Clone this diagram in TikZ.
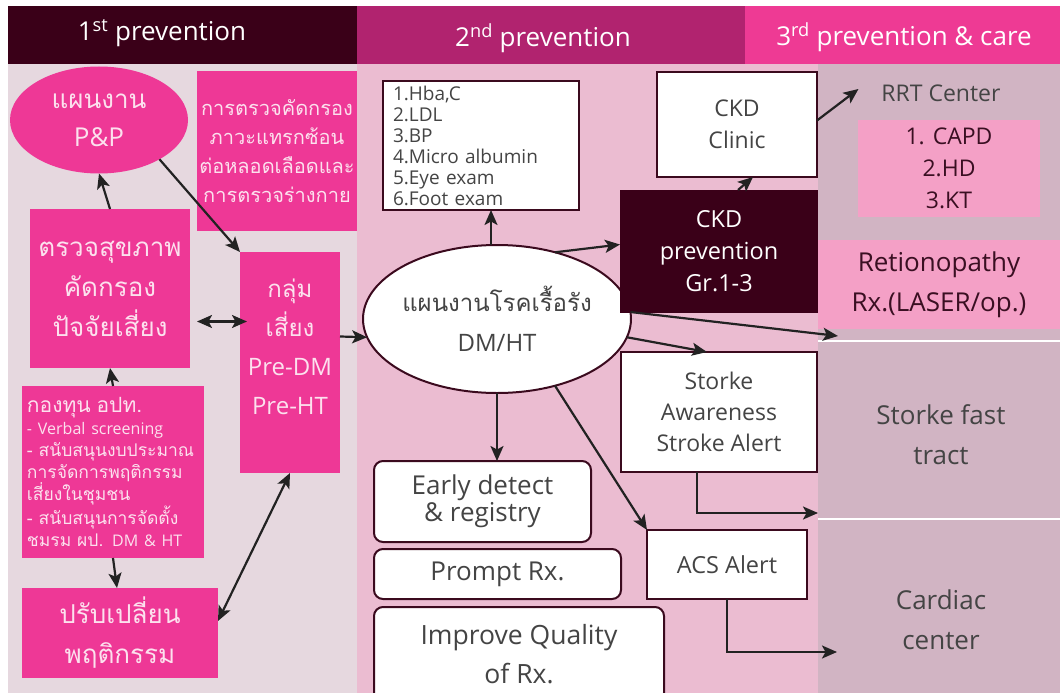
\documentclass[tikz,border=0pt]{standalone}
\usepackage{fontspec}
\setmainfont{Open Sans}
\newfontfamily\thai[Script=Thai]{Loma}
\usetikzlibrary{arrows.meta,shapes.geometric}
\definecolor{headA}{HTML}{3A0018}
\definecolor{headB}{HTML}{B1236F}
\definecolor{headC}{HTML}{EE3A94}
\definecolor{bgA}{HTML}{E6D8DF}
\definecolor{bgB}{HTML}{EBBCD1}
\definecolor{bgC}{HTML}{D1B4C3}
\definecolor{mag}{HTML}{EE3896}
\definecolor{rose}{HTML}{F4A0C6}
\definecolor{edge}{HTML}{3B0A1E}
\definecolor{ink}{HTML}{444444}
\definecolor{pinktxt}{HTML}{FCE1EE}
\definecolor{darktxt}{HTML}{3A0F22}
\definecolor{arrowc}{HTML}{222222}

\begin{document}
\begin{tikzpicture}[x=1pt,y=-1pt,
  >={Stealth[length=15pt,width=13pt,inset=3.5pt]},
  every node/.style={inner sep=0pt,outer sep=0pt},
  sz/.style 2 args={minimum width=#1pt,minimum height=#2pt},
  mbox/.style={fill=mag,text=pinktxt,anchor=north west,align=center},
  wbox/.style={draw=edge,line width=2pt,fill=white,text=ink,anchor=north west,align=center},
  rbox/.style={wbox,rounded corners=9pt},
  oval/.style={ellipse,anchor=center,align=center},
  head/.style={text=white,font=\fontsize{26}{30}\selectfont},
  side/.style={text=ink,align=center,font=\fontsize{26}{40}\selectfont},
  arr/.style={->,line width=2.2pt,draw=arrowc},
  dbl/.style={<->,line width=2.2pt,draw=arrowc}
]
\useasboundingbox (0,0) rectangle (1060,693);
% column bands
\fill[headA] (8,6) rectangle (357,64);
\fill[headB] (357,6) rectangle (745,64);
\fill[headC] (745,6) rectangle (1060,64);
\fill[bgA] (8,64) rectangle (357,693);
\fill[bgB] (357,64) rectangle (818,693);
\fill[bgC] (818,64) rectangle (1060,693);
\draw[white,line width=2pt] (818,341) -- (1060,341) (818,519) -- (1060,519);
\node[head] (firsthd) at (162,33) {1\textsuperscript{st} prevention};
\node[head] (secondhd) at (543,38) {2\textsuperscript{nd} prevention};
\node[head] (thirdhd) at (904,37) {3\textsuperscript{rd} prevention \& care};

% 1st prevention
\node[mbox,oval,sz={178}{107},font=\thai\fontsize{26}{38}\selectfont] (pp) at (99,120)
  {แผนงาน\\{\rmfamily P\&P}};
\node[mbox,sz={160}{160},font=\thai\fontsize{20}{29}\selectfont] (cvscreen) at (197,71)
  {การตรวจคัดกรอง\\ภาวะแทรกซ้อน\\ต่อหลอดเลือดและ\\การตรวจร่างกาย};
\node[mbox,sz={160}{159},font=\thai\fontsize{26}{40}\selectfont] (screen) at (30,209)
  {ตรวจสุขภาพ\\คัดกรอง\\ปัจจัยเสี่ยง};
\node[mbox,sz={100}{221},font=\thai\fontsize{24}{39}\selectfont] (risk) at (240,252)
  {กลุ่ม\\เสี่ยง\\{\rmfamily Pre-DM}\\{\rmfamily Pre-HT}\\[-8pt]\mbox{}};
\node[mbox,sz={182}{172},text width=172pt,align=left,font=\thai\fontsize{17.5}{22}\selectfont] (fund) at (22,386)
  {{\fontsize{21}{24}\selectfont กองทุน อปท.}\\
   {\rmfamily\fontsize{16}{22}\selectfont - Verbal screening}\\
   - สนับสนุนงบประมาณ\\
   การจัดการพฤติกรรม\\
   เสี่ยงในชุมชน\\
   - สนับสนุนการจัดตั้ง\\
   ชมรม ผป. {\rmfamily\fontsize{16}{22}\selectfont DM \& HT}};
\node[mbox,sz={196}{90},font=\thai\fontsize{26}{40}\selectfont] (change) at (22,588)
  {ปรับเปลี่ยน\\พฤติกรรม};

% 2nd prevention
\node[wbox,oval,sz={244}{148},font=\thai\fontsize{24}{40}\selectfont] (dm) at (497,319)
  {แผนงานโรคเรื้อรัง\\{\rmfamily DM/HT}};
\node[wbox,sz={196}{129},text width=176pt,align=left,font=\fontsize{19}{21}\selectfont] (labs) at (383,81)
  {1.Hba,C\\2.LDL\\3.BP\\4.Micro albumin\\5.Eye exam\\6.Foot exam};
\node[mbox,fill=headA,text=white,sz={198}{123},font=\fontsize{23.5}{32}\selectfont] (ckdp) at (620,190)
  {CKD\\prevention\\Gr.1-3};
\node[wbox,sz={160}{105},font=\fontsize{23}{32}\selectfont] (clinic) at (657,72) {CKD\\Clinic};
\node[wbox,sz={196}{120},font=\fontsize{23}{31}\selectfont] (stroke) at (621,352)
  {Storke\\Awareness\\Stroke Alert};
\node[rbox,sz={217}{81},font=\fontsize{26}{27}\selectfont] (early) at (374,461) {Early detect\\\& registry};
\node[rbox,sz={247}{50},font=\fontsize{26}{27}\selectfont] (prompt) at (374,549) {Prompt Rx.};
\node[rbox,sz={290}{95},font=\fontsize{26.5}{39}\selectfont] (quality) at (374,607) {Improve Quality\\of Rx.};
\node[wbox,sz={160}{69},font=\fontsize{23.5}{30}\selectfont] (acs) at (647,530) {ACS Alert};

% 3rd prevention & care
\node[text=ink,font=\fontsize{23}{26}\selectfont] (rrt) at (941,93) {RRT Center};
\node[mbox,fill=rose,text=darktxt,sz={182}{97},font=\fontsize{23}{32}\selectfont] (rrtlist) at (858,120)
  {1. CAPD\\2.HD\\3.KT};
\node[mbox,fill=rose,text=darktxt,sz={242}{89},font=\fontsize{26}{40}\selectfont] (retino) at (818,240)
  {Retionopathy\\Rx.(LASER/op.)};
\node[side] (fast) at (941,435) {Storke fast\\tract};
\node[side] (cardiac) at (941,620) {Cardiac\\center};
\coordinate (toretino) at (838,336);
\coordinate (tofast) at (818,513);
\coordinate (tocardiac) at (837,652);

\draw[arr] (pp.-33) -- (risk.north west);
\draw[arr] (screen.north) -- (pp.south);
\draw[dbl] ([xshift=7pt,yshift=-33pt]screen.east) -- ([xshift=7pt,yshift=-33pt]screen.east -| risk.west);
\draw[arr] (fund.north) -- (screen.south);
\draw[arr] (fund.south) -- ([xshift=-3pt]change.north);
\draw[dbl] ([yshift=12pt]change.east) -- (risk.south);
\draw[arr] ([yshift=26pt]risk.east) -- (dm.188);
\draw[arr] ([xshift=-6pt]dm.north) -- ([xshift=-6pt]dm.north |- labs.south);
\draw[arr] (dm.49) -- ([yshift=7pt]ckdp.west);
\draw[arr] ([xshift=19pt]ckdp.north) -- ([xshift=16pt]clinic.south);
\draw[arr] ([yshift=4pt]clinic.east) -- ([xshift=-23pt,yshift=4pt]rrt.west);
\draw[arr] (dm.3) -- (toretino);
\draw[arr] (dm.-8) -- ([xshift=-12pt]stroke.north);
\draw[arr] (dm.south) -- (dm.south |- early.north);
\draw[arr] (dm.-49) -- (acs.north west);
\draw[arr] ([xshift=-22pt]stroke.south) |- (tofast);
\draw[arr] (acs.south) |- (tocardiac);
\end{tikzpicture}
\end{document}
